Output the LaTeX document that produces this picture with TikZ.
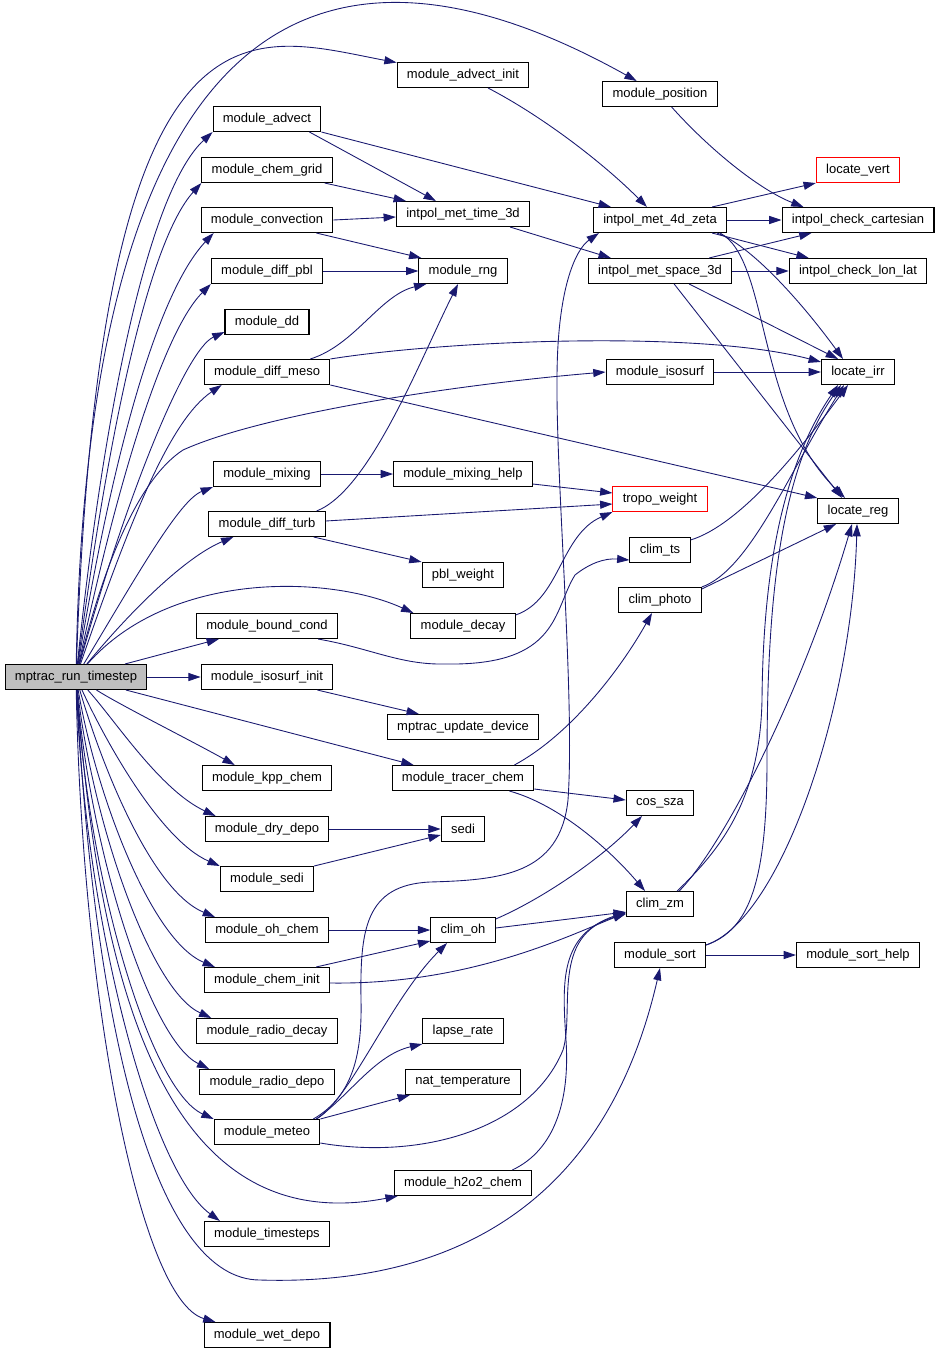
\documentclass[tikz,border=0pt]{standalone}
\usepackage{fontspec}
\setmainfont{Liberation Sans}
\usetikzlibrary{arrows.meta,calc}
\definecolor{callblue}{RGB}{25,25,112}
\definecolor{rootgray}{RGB}{191,191,191}

\begin{document}
\begin{tikzpicture}[x=0.02cm,y=-0.02cm,
  fn/.style={draw=black, fill=white, line width=0.6pt, minimum height=0.5cm,
    inner xsep=5.6pt, inner ysep=0pt, font=\fontsize{7.4}{8}\selectfont},
  fnroot/.style={fn, fill=rootgray},
  fnred/.style={fn, draw=red},
  call/.style={draw=callblue, line width=0.5pt, -{Triangle[length=7pt,width=4.6pt]}}]

  \useasboundingbox (0,0) rectangle (941,1355);

  \node[fnroot] (root) at (76,677) {mptrac\_run\_timestep};
  \node[fn] (advinit) at (463,75) {module\_advect\_init};
  \node[fn] (position) at (660,94) {module\_position};
  \node[fn] (advect) at (267,119) {module\_advect};
  \node[fn] (chemgrid) at (267,170) {module\_chem\_grid};
  \node[fn] (imt3d) at (463,214) {intpol\_met\_time\_3d};
  \node[fn] (convection) at (267,220) {module\_convection};
  \node[fn] (im4dz) at (660,220) {intpol\_met\_4d\_zeta};
  \node[fnred] (locvert) at (858,170) {locate\_vert};
  \node[fn] (icc) at (858,220) {intpol\_check\_cartesian};
  \node[fn] (diffpbl) at (267,271) {module\_diff\_pbl};
  \node[fn] (rng) at (463,271) {module\_rng};
  \node[fn] (ims3d) at (660,271) {intpol\_met\_space\_3d};
  \node[fn] (icll) at (858,271) {intpol\_check\_lon\_lat};
  \node[fn] (dd) at (267,322) {module\_dd};
  \node[fn] (diffmeso) at (267,372) {module\_diff\_meso};
  \node[fn] (isosurf) at (660,372) {module\_isosurf};
  \node[fn] (locirr) at (858,372) {locate\_irr};
  \node[fn] (mixing) at (267,474) {module\_mixing};
  \node[fn] (mixhelp) at (463,474) {module\_mixing\_help};
  \node[fnred] (tropo) at (660,499) {tropo\_weight};
  \node[fn] (locreg) at (858,511) {locate\_reg};
  \node[fn] (diffturb) at (267,524) {module\_diff\_turb};
  \node[fn] (climts) at (660,550) {clim\_ts};
  \node[fn] (pbl) at (463,575) {pbl\_weight};
  \node[fn] (climphoto) at (660,600) {clim\_photo};
  \node[fn] (boundcond) at (267,626) {module\_bound\_cond};
  \node[fn] (decay) at (463,626) {module\_decay};
  \node[fn] (isoinit) at (267,677) {module\_isosurf\_init};
  \node[fn] (update) at (463,727) {mptrac\_update\_device};
  \node[fn] (kpp) at (267,778) {module\_kpp\_chem};
  \node[fn] (tracer) at (463,778) {module\_tracer\_chem};
  \node[fn] (cossza) at (660,803) {cos\_sza};
  \node[fn] (drydepo) at (267,829) {module\_dry\_depo};
  \node[fn] (sedi) at (463,829) {sedi};
  \node[fn] (modsedi) at (267,879) {module\_sedi};
  \node[fn] (climzm) at (660,904) {clim\_zm};
  \node[fn] (ohchem) at (267,930) {module\_oh\_chem};
  \node[fn] (climoh) at (463,930) {clim\_oh};
  \node[fn] (sort) at (660,955) {module\_sort};
  \node[fn] (sorthelp) at (858,955) {module\_sort\_help};
  \node[fn] (cheminit) at (267,980) {module\_chem\_init};
  \node[fn] (radiodecay) at (267,1031) {module\_radio\_decay};
  \node[fn] (lapse) at (463,1031) {lapse\_rate};
  \node[fn] (radiodepo) at (267,1082) {module\_radio\_depo};
  \node[fn] (nat) at (463,1082) {nat\_temperature};
  \node[fn] (meteo) at (267,1132) {module\_meteo};
  \node[fn] (h2o2) at (463,1183) {module\_h2o2\_chem};
  \node[fn] (timesteps) at (267,1234) {module\_timesteps};
  \node[fn] (wetdepo) at (267,1335) {module\_wet\_depo};

  \draw[call] (root) .. controls (90,-120) and (420,-40) .. (position);
  \draw[call] (root) .. controls (100,-30) and (250,35) .. (advinit);
  \draw[call] (root) .. controls (105,400) and (150,190) .. (advect.south west);
  \draw[call] (root) .. controls (110,420) and (150,240) .. (chemgrid.south west);
  \draw[call] (root) .. controls (115,440) and (160,290) .. ($(convection.south west)+(13,0)$);
  \draw[call] (root) .. controls (120,470) and (165,330) .. (diffpbl.south west);
  \draw[call] (root) .. controls (125,500) and (185,350) .. ($(dd.south west)+(0,-3)$);
  \draw[call] (root) .. controls (130,520) and (170,420) .. ($(diffmeso.south west)+(18,0)$);
  \draw[call] (root) .. controls (105,560) and (140,478) .. (183,450)
    .. controls (260,415) and (450,385) .. (isosurf.west);
  \draw[call] (root) .. controls (140,570) and (180,500) .. (mixing.south west);
  \draw[call] (root) .. controls (140,600) and (190,555) .. ($(diffturb.south west)+(25,0)$);
  \draw[call] (root) .. controls (170,570) and (330,575) .. ($(decay.north west)+(3,0)$);
  \draw[call] (root) -- ($(boundcond.south west)+(23,0)$);
  \draw[call] (root) -- (isoinit);
  \draw[call] (root) -- ($(tracer.north west)+(22,0)$);
  \draw[call] (root) .. controls (120,705) and (190,740) .. ($(kpp.north west)+(33,0)$);
  \draw[call] (root) .. controls (115,720) and (160,790) .. ($(drydepo.north west)+(11,0)$);
  \draw[call] (root) .. controls (105,740) and (160,840) .. (modsedi.north west);
  \draw[call] (root) .. controls (100,760) and (150,890) .. ($(ohchem.north west)+(10,0)$);
  \draw[call] (root) .. controls (95,790) and (150,940) .. ($(cheminit.north west)+(11,0)$);
  \draw[call] (root) .. controls (92,820) and (150,990) .. ($(radiodecay.north west)+(15,0)$);
  \draw[call] (root) .. controls (90,850) and (150,1040) .. ($(radiodepo.north west)+(10,0)$);
  \draw[call] (root) .. controls (88,880) and (150,1090) .. (meteo.north west);
  \draw[call] (root) .. controls (100,1000) and (170,1240) .. ($(h2o2.south west)+(4,0)$);
  \draw[call] (root) .. controls (85,920) and (150,1170) .. ($(timesteps.north west)+(16,0)$);
  \draw[call] (root) .. controls (95,1050) and (160,1280) .. (260,1280)
    .. controls (420,1285) and (600,1230) .. (sort.south);
  \draw[call] (root) .. controls (82,1000) and (140,1300) .. ($(wetdepo.north west)+(12,0)$);

  \draw[call] (advinit) .. controls (540,115) and (600,160) .. (im4dz);
  \draw[call] (position) .. controls (710,150) and (760,190) .. ($(icc.north west)+(22,0)$);
  \draw[call] ($(advect.south east)+(-12,0)$) -- ($(imt3d.north west)+(40,0)$);
  \draw[call] (advect.south east) -- ($(im4dz.north west)+(18,0)$);
  \draw[call] ($(chemgrid.south east)+(-8,0)$) -- ($(imt3d.north west)+(10,0)$);
  \draw[call] (convection.east) -- ($(imt3d.west)+(0,3)$);
  \draw[call] ($(convection.south east)+(-17,0)$) -- ($(rng.north west)+(3,0)$);
  \draw[call] (diffpbl) -- (rng);
  \draw[call] ($(diffmeso.north east)+(-20,0)$) .. controls (355,345) and (380,295) .. ($(rng.south west)+(8,0)$);
  \draw[call] (diffmeso.north east) .. controls (450,340) and (700,330) .. ($(locirr.north west)+(0,3)$);
  \draw[call] (diffmeso.south east) -- (locreg.north west);
  \draw[call] ($(imt3d.south east)+(-20,0)$) -- ($(ims3d.north west)+(23,0)$);
  \draw[call] ($(im4dz.north east)+(-15,0)$) -- (locvert.south west);
  \draw[call] (im4dz) -- (icc);
  \draw[call] ($(im4dz.south east)+(-15,0)$) -- ($(icll.north west)+(20,0)$);
  \draw[call] ($(im4dz.south east)+(-10,0)$) .. controls (750,245) and (800,300) .. ($(locirr.north)+(-15,0)$);
  \draw[call] ($(im4dz.south east)+(-7,0)$) .. controls (770,260) and (755,410) .. ($(locreg.north)+(-13,0)$);
  \draw[call] ($(ims3d.north east)+(-23,0)$) -- ($(icc.south west)+(30,0)$);
  \draw[call] (ims3d) -- (icll);
  \draw[call] ($(ims3d.south east)+(-43,0)$) -- ($(locirr.north)+(-20,0)$);
  \draw[call] ($(ims3d.south east)+(-58,0)$) -- ($(locreg.north)+(-16,0)$);
  \draw[call] (isosurf) -- (locirr);
  \draw[call] (mixing) -- (mixhelp);
  \draw[call] ($(mixhelp.south east)+(0,-3)$) -- ($(tropo.west)+(0,-6)$);
  \draw[call] ($(diffturb.east)+(0,-3)$) -- ($(tropo.west)+(0,5)$);
  \draw[call] ($(diffturb.south east)+(-12,0)$) -- (pbl.north west);
  \draw[call] ($(diffturb.north east)+(-9,0)$) .. controls (370,490) and (420,360) .. ($(rng.south)+(-5,0)$);
  \draw[call] ($(climts.north east)+(0,3)$) .. controls (740,525) and (800,450) .. ($(locirr.south)+(-10,0)$);
  \draw[call] (climphoto.north east) .. controls (750,570) and (790,470) .. ($(locirr.south)+(-14,0)$);
  \draw[call] ($(climphoto.north east)+(0,2)$) -- ($(locreg.south)+(-22,0)$);
  \draw[call] ($(decay.north east)+(0,2)$) .. controls (560,600) and (560,535) .. (tropo.south west);
  \draw[call] ($(boundcond.south east)+(-20,0)$) .. controls (370,648) and (400,665) .. (445,664)
    .. controls (560,666) and (553,610) .. (575,575)
    .. controls (590,563) and (605,558) .. ($(climts.south west)+(0,-3)$);
  \draw[call] ($(isoinit.south east)+(-16,0)$) -- ($(update.north west)+(32,0)$);
  \draw[call] ($(tracer.north east)+(-20,0)$) .. controls (570,735) and (620,670) .. ($(climphoto.south)+(-8,0)$);
  \draw[call] ($(tracer.south east)+(0,-2)$) -- ($(cossza.west)+(0,-3)$);
  \draw[call] ($(tracer.south east)+(-25,0)$) .. controls (560,805) and (610,850) .. ($(climzm.north)+(-15,0)$);
  \draw[call] (drydepo) -- (sedi);
  \draw[call] (modsedi.north east) -- ($(sedi.west)+(0,6)$);
  \draw[call] ($(climoh.north east)+(0,2)$) .. controls (540,900) and (600,860) .. ($(cossza.south)+(-18,0)$);
  \draw[call] ($(climoh.east)+(0,-2)$) -- ($(climzm.west)+(0,8)$);
  \draw[call] (ohchem) -- (climoh);
  \draw[call] ($(cheminit.north east)+(-14,0)$) -- ($(climoh.south west)+(0,-2)$);
  \draw[call] ($(cheminit.east)+(0,3)$) .. controls (470,985) and (570,935) .. ($(climzm.south west)+(0,-4)$);
  \draw[call] (sort) -- (sorthelp);
  \draw[call] ($(sort.north east)+(0,3)$) .. controls (750,930) and (767,880) .. (767,760)
    .. controls (767,600) and (780,470) .. ($(locirr.south)+(-17,0)$);
  \draw[call] ($(sort.north east)+(0,3)$) .. controls (780,920) and (852,710) .. ($(locreg.south)+(-1,0)$);
  \draw[call] ($(climzm.north east)+(-17,0)$) .. controls (720,850) and (760,800) .. (762,700)
    .. controls (763,580) and (780,470) .. ($(locirr.south)+(-20,0)$);
  \draw[call] ($(climzm.north east)+(-15,0)$) .. controls (720,850) and (800,700) .. ($(locreg.south)+(-6,0)$);
  \draw[call] ($(meteo.north east)+(-7,0)$) .. controls (355,1095) and (362,1050) .. (361,1000)
    .. controls (360,930) and (365,885) .. (430,882)
    .. controls (500,880) and (560,875) .. (568,800)
    .. controls (575,700) and (556,480) .. (557,380)
    .. controls (557,290) and (575,250) .. ($(im4dz.south west)+(6,0)$);
  \draw[call] ($(meteo.north east)+(-4,0)$) .. controls (350,1100) and (390,1000) .. ($(climoh.south)+(-16,0)$);
  \draw[call] ($(meteo.north east)+(-4,0)$) .. controls (350,1095) and (375,1055) .. (lapse.south west);
  \draw[call] (meteo.north east) -- ($(nat.south west)+(5,0)$);
  \draw[call] ($(meteo.south east)+(0,-2)$) .. controls (420,1160) and (530,1130) .. (563,1050)
    .. controls (575,1010) and (550,935) .. ($(climzm.south west)+(0,-3)$);
  \draw[call] ($(h2o2.north east)+(-20,0)$) .. controls (555,1150) and (570,1100) .. (566,1040)
    .. controls (562,980) and (560,935) .. ($(climzm.south west)+(0,-5)$);
\end{tikzpicture}
\end{document}
